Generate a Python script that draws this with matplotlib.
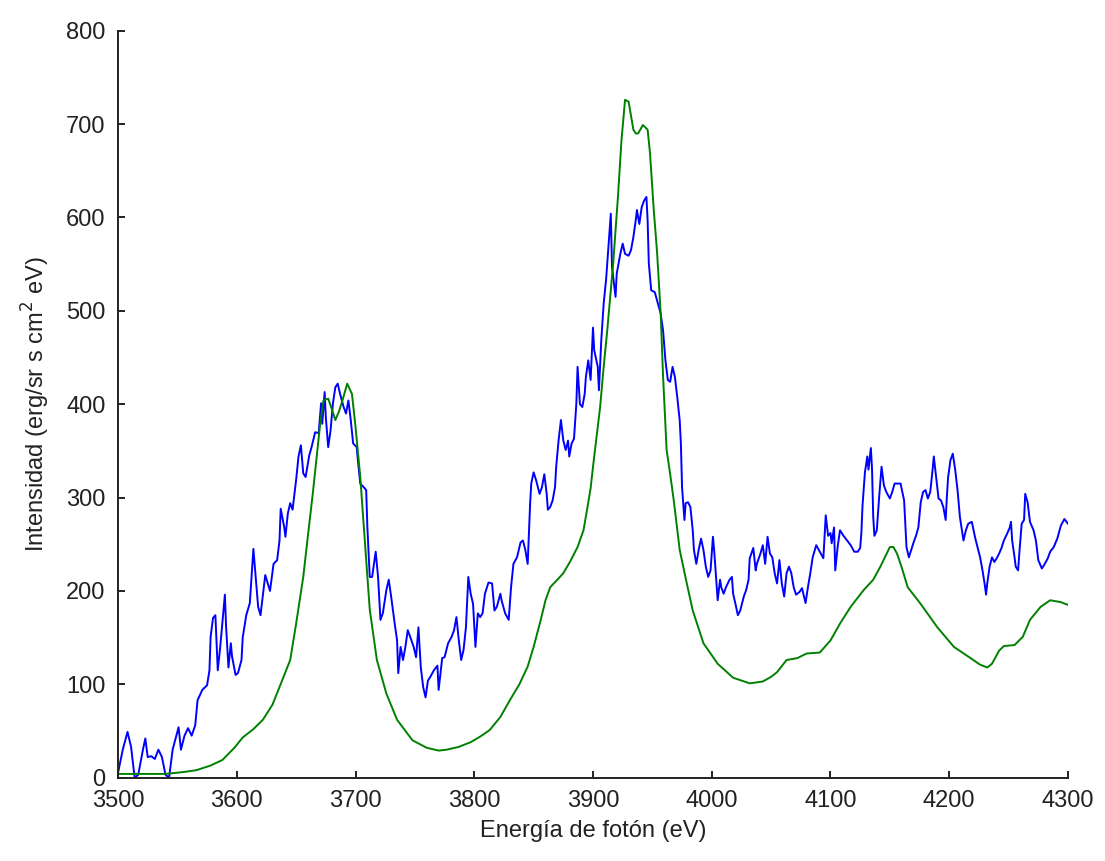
import numpy as np
import matplotlib
matplotlib.use("Agg")
import matplotlib.pyplot as plt

# ---------------------------------------------------------------------------
# data
# ---------------------------------------------------------------------------

# measured spectrum (noisy, blue)
energy_meas = [
    3500, 3504, 3508, 3511, 3514, 3517, 3521, 3523, 3525, 3528, 3531, 3534, 3537, 3540,
    3543, 3546, 3551, 3553, 3556, 3559, 3562, 3565, 3567, 3571, 3575, 3577, 3578, 3580,
    3582, 3584, 3586, 3588, 3590, 3591, 3593, 3595, 3596, 3599, 3601, 3604, 3605, 3608,
    3611, 3614, 3618, 3620, 3624,
    3628, 3631, 3634, 3636, 3637, 3640, 3641, 3643, 3645, 3647, 3650, 3652, 3654, 3656,
    3658, 3661, 3663, 3666, 3669, 3671, 3672, 3674, 3675, 3677, 3679, 3681, 3683, 3685,
    3687, 3690, 3692, 3694, 3696, 3698, 3701, 3702, 3704, 3707, 3709, 3710, 3712, 3714,
    3716, 3717, 3719, 3721, 3723, 3726, 3728, 3730, 3733, 3735, 3736, 3738, 3740, 3742,
    3744, 3746, 3749, 3751, 3753, 3755, 3757, 3759, 3761,
    3763, 3766, 3769, 3770, 3773, 3775, 3778, 3781, 3783, 3785, 3787, 3789, 3791, 3793,
    3795, 3797, 3799, 3801, 3803, 3805, 3807, 3809, 3812, 3815, 3817, 3819, 3822, 3823,
    3826, 3829, 3831, 3833, 3836, 3839, 3841, 3843, 3845, 3847, 3848, 3850, 3852, 3855,
    3857, 3859, 3861, 3862, 3864, 3866, 3868, 3869, 3871, 3873, 3875, 3877, 3879, 3880,
    3882, 3884, 3886, 3887, 3889, 3891, 3893, 3894, 3896, 3898,
    3900, 3901, 3904, 3905, 3907, 3909, 3911, 3913, 3915, 3916, 3919, 3920, 3923, 3925,
    3927, 3930, 3932, 3934, 3936, 3937, 3939, 3941, 3943, 3945, 3946, 3947, 3949, 3952,
    3954, 3957, 3959, 3961, 3963, 3965, 3967, 3969, 3971, 3973, 3974, 3975, 3977, 3978,
    3980, 3982, 3984, 3985, 3987, 3989, 3991, 3993, 3995, 3997, 3999, 4001, 4002, 4004,
    4005, 4007, 4008, 4010, 4012, 4015, 4017, 4018, 4020, 4022, 4024, 4027, 4029, 4031,
    4032, 4035, 4037, 4038, 4041, 4043, 4045, 4047, 4049, 4051, 4053, 4055, 4057, 4059,
    4061, 4063, 4065, 4067, 4069, 4071, 4074, 4076, 4078, 4079, 4081,
    4083, 4085, 4088, 4091, 4094, 4095, 4096, 4098, 4100, 4101, 4103, 4104, 4106, 4108,
    4111, 4114, 4117, 4120, 4123, 4125, 4126, 4127, 4129, 4131, 4132, 4134, 4135, 4136,
    4137, 4139, 4140, 4141, 4143, 4145, 4147, 4150, 4152, 4154, 4156, 4159, 4162, 4164,
    4166, 4168, 4170, 4172, 4174, 4176, 4178, 4180, 4182, 4184, 4186, 4187, 4189, 4191,
    4193, 4195, 4197, 4198, 4199, 4201, 4203, 4205, 4207, 4209, 4212, 4214, 4216, 4219,
    4222, 4224, 4226,
    4228, 4230, 4231, 4232, 4234, 4236, 4238, 4240, 4242, 4244, 4246, 4249, 4251, 4252,
    4253, 4255, 4256, 4258, 4259, 4261, 4263, 4264, 4266, 4268, 4271, 4273, 4275, 4278,
    4280, 4283, 4285, 4288, 4291, 4294, 4297, 4300,
]
intensity_meas = [
    5, 30, 49, 33, 0, 3, 30, 42, 22, 23, 20, 30, 22, 3,
    0, 30, 54, 30, 45, 53, 45, 56, 83, 94, 99, 115, 151, 171,
    174, 115, 139, 167, 196, 162, 118, 144, 130, 110, 112, 126, 150, 174,
    187, 245, 183, 174, 217,
    200, 229, 233, 254, 288, 268, 258, 283, 294, 287, 319, 344, 356, 326,
    322, 345, 354, 370, 369, 401, 379, 413, 386, 354, 372, 401, 418, 422,
    411, 397, 390, 404, 383, 358, 354, 340, 315, 311, 308, 268, 215, 215,
    233, 242, 215, 169, 176, 201, 212, 194, 165, 147, 112, 140, 126, 140,
    158, 151, 140, 129, 161, 118, 97, 86, 104,
    108, 115, 120, 94, 128, 129, 144, 151, 158, 172, 147, 126, 137, 161,
    215, 197, 186, 140, 176, 172, 176, 197, 209, 208, 179, 183, 197, 190,
    176, 169, 204, 229, 236, 252, 254, 244, 229, 292, 315, 327, 319, 304,
    311, 325, 304, 287, 290, 297, 311, 333, 361, 383, 361, 351, 361, 344,
    358, 363, 401, 440, 400, 397, 411, 429, 447, 426,
    482, 458, 440, 415, 469, 508, 533, 568, 604, 547, 515, 540, 561, 572,
    561, 559, 565, 579, 597, 608, 593, 611, 618, 622, 597, 551, 522, 520,
    511, 497, 479, 447, 426, 424, 440, 429, 407, 383, 358, 311, 276, 294,
    295, 290, 265, 244, 229, 244, 256, 244, 226, 215, 222, 258, 244, 208,
    190, 212, 204, 197, 204, 212, 215, 197, 186, 174, 179, 194, 201, 212,
    235, 246, 222, 229, 240, 249, 229, 258, 240, 236, 219, 208, 233, 208,
    194, 219, 226, 219, 204, 196, 199, 203, 192, 187, 204,
    219, 236, 249, 242, 235, 258, 281, 259, 262, 251, 268, 222, 247, 265,
    259, 254, 249, 242, 242, 246, 262, 292, 327, 344, 330, 353, 330, 279,
    259, 265, 283, 301, 333, 313, 306, 299, 306, 315, 315, 315, 297, 247,
    236, 244, 252, 259, 268, 295, 306, 308, 299, 306, 330, 344, 321, 299,
    297, 290, 276, 301, 321, 340, 347, 330, 308, 279, 254, 265, 272, 274,
    256, 246, 236,
    222, 206, 196, 208, 226, 236, 231, 235, 240, 246, 254, 262, 268, 274,
    254, 236, 226, 222, 240, 272, 276, 304, 295, 274, 265, 254, 233, 224,
    228, 235, 242, 247, 256, 270, 277, 272,
]

# model spectrum (smooth, green)
energy_model = [
    3500, 3520, 3540, 3555, 3566, 3578, 3588, 3598, 3605, 3614, 3622, 3630, 3636, 3645,
    3650, 3656, 3660, 3664, 3670, 3673, 3677, 3680, 3683, 3686, 3689, 3693, 3697, 3700,
    3704, 3708, 3712, 3718, 3726, 3735, 3748, 3760, 3770, 3777, 3787, 3797, 3805, 3813,
    3822, 3830, 3838, 3845, 3850, 3856, 3860, 3864, 3870, 3875, 3881, 3887, 3892, 3895,
    3898, 3900, 3903, 3906, 3909, 3912, 3917, 3921, 3924, 3927, 3930, 3934, 3936, 3938,
    3942, 3946, 3948, 3951, 3954, 3957, 3959, 3962, 3965, 3968, 3973, 3979, 3984, 3993,
    4005, 4018, 4032, 4043, 4050, 4055, 4063, 4072, 4080, 4091, 4100, 4108, 4117, 4128,
    4136, 4142, 4150, 4153, 4156, 4160, 4165, 4176, 4190, 4204, 4218, 4226, 4232, 4236,
    4242, 4246, 4255, 4262, 4268, 4277, 4285, 4294, 4300,
]
intensity_model = [
    4, 4, 4, 6, 8, 13, 19, 32, 43, 52, 62, 78, 97, 126,
    165, 215, 260, 304, 376, 404, 406, 395, 383, 392, 404, 422, 411, 376,
    322, 251, 180, 126, 90, 62, 40, 32, 29, 30, 33, 38, 44, 51,
    65, 83, 100, 119, 140, 169, 190, 204, 212, 219, 232, 247, 265, 287,
    310, 333, 365, 397, 440, 479, 551, 622, 683, 726, 724, 694, 690, 690,
    699, 694, 669, 611, 562, 497, 430, 351, 325, 297, 244, 208, 179, 144,
    122, 107, 101, 103, 108, 113, 126, 128, 133, 134, 147, 165, 183, 201,
    212, 226, 247, 247, 240, 225, 204, 186, 161, 140, 128, 121, 118, 122,
    136, 141, 142, 151, 169, 183, 190, 188, 185,
]

x_ticks = [3500, 3600, 3700, 3800, 3900, 4000, 4100, 4200, 4300]
y_ticks = [0, 100, 200, 300, 400, 500, 600, 700, 800]

# ---------------------------------------------------------------------------
# plot
# ---------------------------------------------------------------------------

plt.rcParams["font.family"] = ["Liberation Sans", "DejaVu Sans"]

fig = plt.figure(figsize=(11.05, 8.61), dpi=100)
ax = fig.add_axes([0.1068, 0.0968, 0.8597, 0.8675])

ax.plot(energy_meas, intensity_meas, color="#0000ff", linewidth=1.4)
ax.plot(energy_model, intensity_model, color="#008000", linewidth=1.4)

ax.set_xlim(3500, 4300)
ax.set_ylim(0, 800)
ax.set_xticks(x_ticks)
ax.set_yticks(y_ticks)

for side in ("top", "right"):
    ax.spines[side].set_visible(False)
for side in ("left", "bottom"):
    ax.spines[side].set_linewidth(1.4)
    ax.spines[side].set_color("#222222")

ax.tick_params(direction="in", length=5, width=1.4, labelsize=17,
               colors="#222222", pad=9)

ax.set_xlabel("Energía de fotón (eV)", fontsize=17, color="#222222", labelpad=6)
ax.set_ylabel("Intensidad (erg/sr s cm$^2$ eV)", fontsize=17, color="#222222",
              labelpad=10)

fig.savefig("out.png", dpi=100)
